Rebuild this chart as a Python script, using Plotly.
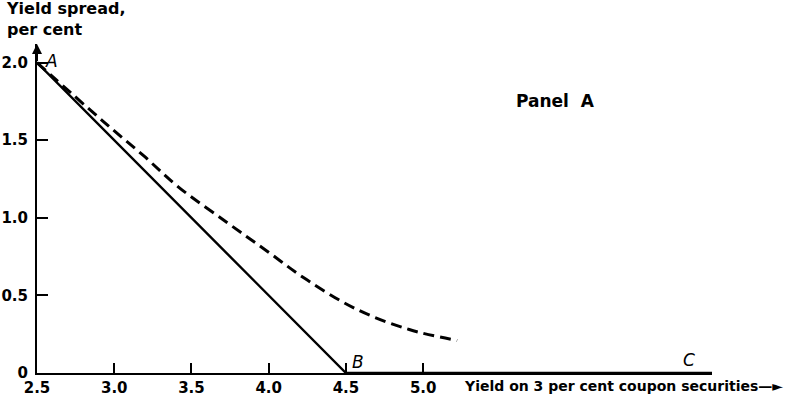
import plotly.graph_objects as go

# Solid schedule A -> B -> C
solid_x = [2.5, 4.5, 6.87]
solid_y = [2.0, 0.0, 0.0]

# Dashed curve
dash_x = [2.5, 2.93, 3.19, 3.42, 3.73, 3.99, 4.24, 4.57, 4.91, 5.22]
dash_y = [2.0, 1.62, 1.40, 1.195, 0.97, 0.785, 0.605, 0.41, 0.28, 0.21]

x_ticks = [2.5, 3.0, 3.5, 4.0, 4.5, 5.0]
x_tick_labels = ["2.5", "3.0", "3.5", "4.0", "4.5", "5.0"]
y_ticks = [0, 0.5, 1.0, 1.5, 2.0]
y_tick_labels = ["0", "0.5", "1.0", "1.5", "2.0"]

FONT = "DejaVu Sans"

fig = go.Figure()
fig.add_trace(go.Scatter(x=solid_x, y=solid_y, mode="lines",
                         line=dict(color="black", width=2.4), showlegend=False,
                         hoverinfo="skip"))
fig.add_trace(go.Scatter(x=dash_x, y=dash_y, mode="lines", line_shape="spline",
                         line=dict(color="black", width=3, dash="11px,6px", smoothing=1),
                         showlegend=False, hoverinfo="skip"))

tf = dict(size=15, family=FONT, weight="bold")
fig.update_layout(
    width=803, height=401,
    margin=dict(l=37, r=91, t=44, b=28, autoexpand=False),
    plot_bgcolor="white", paper_bgcolor="white",
    font=dict(family=FONT, color="black", size=14),
    xaxis=dict(range=[2.5, 6.87], showgrid=False, zeroline=False, automargin=False,
               showline=True, linecolor="black", linewidth=2,
               tickmode="array", tickvals=x_ticks, ticktext=x_tick_labels,
               ticks="inside", ticklen=10, tickwidth=2, tickcolor="black",
               tickfont=tf),
    yaxis=dict(range=[0, 2.12], showgrid=False, zeroline=False, automargin=False,
               showline=True, linecolor="black", linewidth=2,
               tickmode="array", tickvals=y_ticks, ticktext=y_tick_labels,
               ticks="inside", ticklen=11, tickwidth=2, tickcolor="black",
               ticklabelstandoff=4, tickfont=tf),
)

# y axis arrow
fig.add_annotation(x=2.5, y=2.12, ax=2.5, ay=2.0, xref="x", yref="y",
                   axref="x", ayref="y", showarrow=True, arrowhead=2,
                   arrowsize=1, arrowwidth=2, arrowcolor="black", text="")

# Labels
fig.add_annotation(x=0, y=1.0, xref="paper", yref="paper", yanchor="bottom",
                   xanchor="left", yshift=3, xshift=-33,
                   text="Yield spread,<br>per cent", showarrow=False, align="left",
                   font=dict(size=16, family=FONT, weight="bold"))
fig.add_annotation(x=2.5, y=2.0, xref="x", yref="y", text="<i>A</i>",
                   showarrow=False, xanchor="left", xshift=6, yshift=2,
                   font=dict(size=17, family=FONT))
fig.add_annotation(x=4.5, y=0.0, xref="x", yref="y", text="<i>B</i>",
                   showarrow=False, xanchor="left", yanchor="bottom", xshift=4, yshift=-1,
                   font=dict(size=17, family=FONT))
fig.add_annotation(x=6.72, y=0.0, xref="x", yref="y", text="<i>C</i>",
                   showarrow=False, xanchor="center", yanchor="bottom", yshift=1,
                   font=dict(size=17, family=FONT))
fig.add_annotation(x=5.25, y=0.0, xref="x", yref="y",
                   text="Yield on 3 per cent coupon securities\u2014\u25ba",
                   showarrow=False, xanchor="left", yanchor="top", yshift=-3,
                   font=dict(size=14, family=FONT, weight="bold"))
fig.add_annotation(x=5.855, y=1.755, xref="x", yref="y", text="Panel  A",
                   showarrow=False, xanchor="center",
                   font=dict(size=17, family=FONT, weight="bold"))

fig.write_html("out.html")
